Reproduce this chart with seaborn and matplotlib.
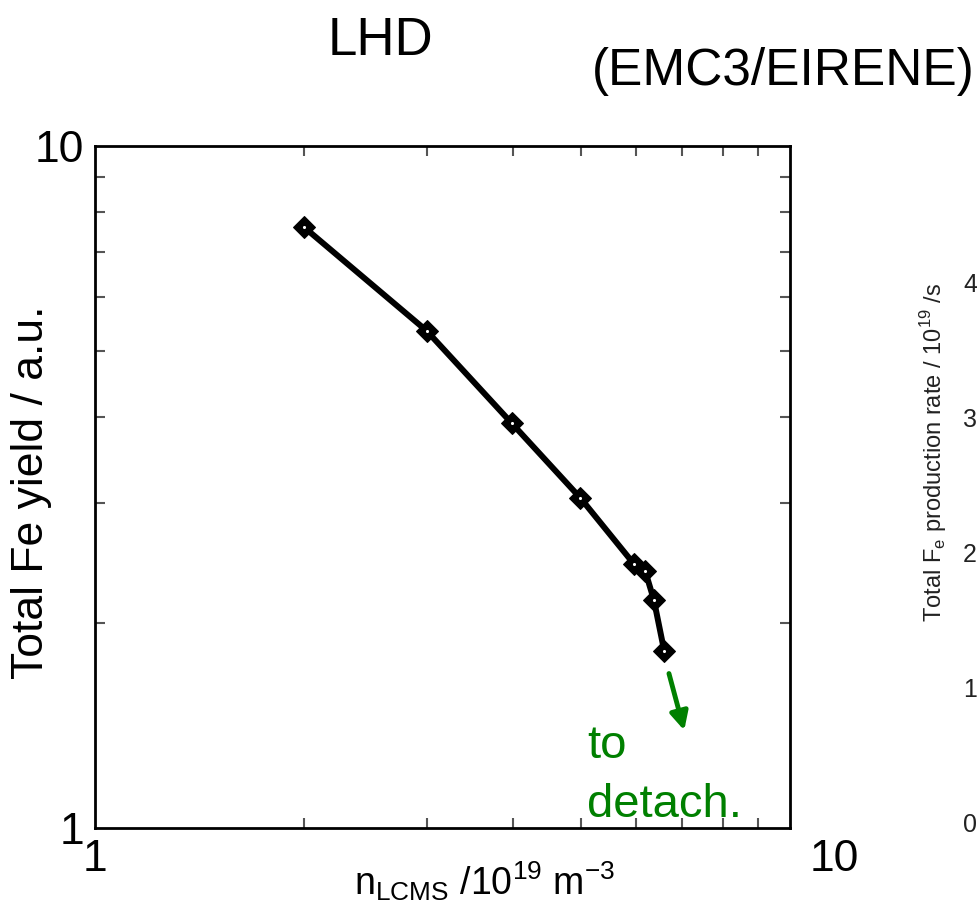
import pandas as pd
import matplotlib.pyplot as plt
import matplotlib.transforms as mtransforms
import seaborn as sns
from matplotlib.ticker import LogLocator, NullFormatter, FixedLocator, FixedFormatter

# density n_LCMS (10^19 m^-3) and total Fe yield (a.u.)
density = [2.0, 3.0, 3.98, 4.99, 5.96, 6.19, 6.37, 6.59]
fe_yield = [7.6, 5.36, 3.92, 3.05, 2.44, 2.38, 2.16, 1.82]
major_ticks = [1, 10]
major_labels = ['1', '10']
right_ticks = ['4', '3', '2', '1', '0']

sns.set_theme(style='ticks')
plt.rcParams['font.family'] = ['Liberation Sans', 'DejaVu Sans']
plt.rcParams['text.color'] = 'black'
plt.rcParams['axes.labelcolor'] = 'black'
plt.rcParams['xtick.labelcolor'] = 'black'
plt.rcParams['ytick.labelcolor'] = 'black'

df = pd.DataFrame({'density': density, 'fe_yield': fe_yield})

fig = plt.figure(figsize=(9.78, 9.19), dpi=100)
ax = fig.add_axes([0.0971, 0.099, 0.7107, 0.7421])

sns.lineplot(data=df, x='density', y='fe_yield', ax=ax, color='black',
             linewidth=4.3, marker='D', markersize=11, markeredgecolor='black',
             markerfacecolor='black', sort=False)
# small white dot in the middle of each marker
sns.scatterplot(data=df, x='density', y='fe_yield', ax=ax, color='white',
                s=5, linewidth=0, zorder=5)

ax.set_xscale('log')
ax.set_yscale('log')
ax.set_xlim(1, 10)
ax.set_ylim(1, 10)

for axis in (ax.xaxis, ax.yaxis):
    axis.set_major_locator(FixedLocator(major_ticks))
    axis.set_major_formatter(FixedFormatter(major_labels))
    axis.set_minor_locator(LogLocator(base=10, subs=range(2, 10)))
    axis.set_minor_formatter(NullFormatter())

ax.tick_params(which='both', direction='in', top=True, right=True,
               color='#555555', width=1.5)
ax.tick_params(which='major', length=0, labelsize=32, pad=8)
ax.tick_params(which='minor', length=7)
for s in ax.spines.values():
    s.set_linewidth(2)
    s.set_color('black')

# the "10" on the x axis sits right of the axis end in the original
lbl = ax.get_xticklabels()[1]
lbl.set_transform(lbl.get_transform() +
                  mtransforms.ScaledTranslation(0.44, 0, fig.dpi_scale_trans))

ax.set_xlabel('n$_\\mathregular{LCMS}$ /10$^\\mathregular{19}$ m$^\\mathregular{-3}$',
              fontsize=27)
ax.xaxis.set_label_coords(0.561, -0.045)
ax.set_ylabel('Total Fe yield / a.u.', fontsize=32)
ax.yaxis.set_label_coords(-0.062, 0.493)

# annotation towards detachment
ax.annotate('', xy=(7.06, 1.378), xytext=(6.68, 1.70),
            arrowprops=dict(arrowstyle='-|>', color='green', lw=3.5,
                            mutation_scale=27))
ax.text(5.1, 1.266, 'to', color='green', fontsize=34, ha='left', va='baseline')
ax.text(5.1, 1.038, 'detach.', color='green', fontsize=34, ha='left', va='baseline')

fig.text(0.389, 0.955, 'LHD', fontsize=38, ha='center', va='center')
fig.text(0.801, 0.922, '(EMC3/EIRENE)', fontsize=37, ha='center', va='center')

# edge of the neighbouring panel
fig.text(0.955, 0.508, 'Total F$_\\mathregular{e}$ production rate / 10$^\\mathregular{19}$ /s',
         fontsize=17, rotation=90, ha='center', va='center', color='#222222')
for i, t in enumerate(right_ticks):
    fig.text(0.999, 0.690 - i * 0.147, t, fontsize=18, ha='right',
             va='center', color='#222222')

fig.savefig('out.png', dpi=100)
